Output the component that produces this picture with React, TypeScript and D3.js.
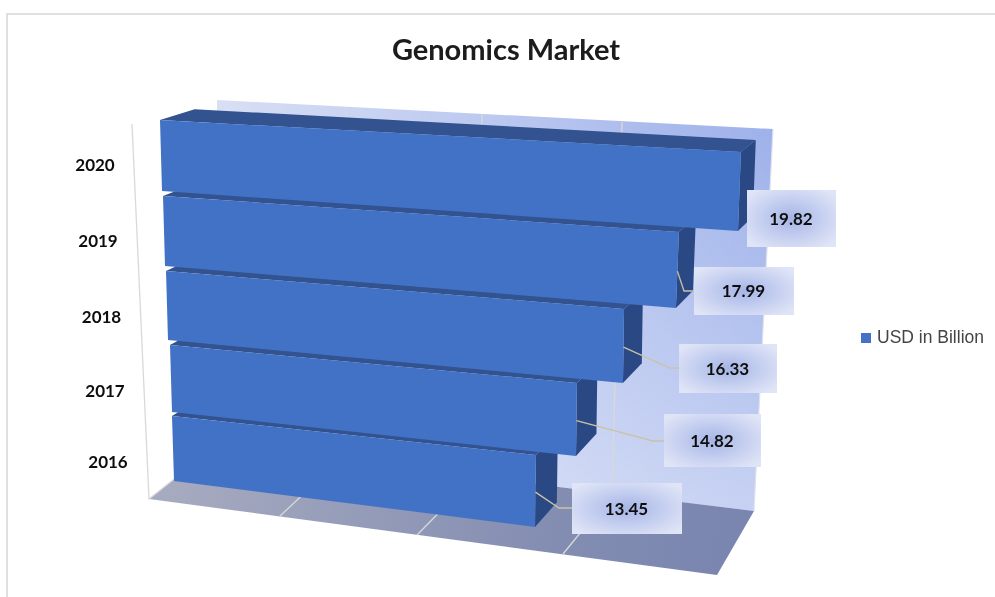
import React from "react";
import * as d3 from "d3";

const years = ["2016", "2017", "2018", "2019", "2020"];
const usdBillion = [13.45, 14.82, 16.33, 17.99, 19.82];
const valueTicks = [0, 5, 10, 15, 20];
const title = "Genomics Market";
const seriesName = "USD in Billion";

// Layout of the fake-3D projection (bar rows run bottom to top)
const rowKnots = [0, 0.95, 1, 1.95, 2, 2.95, 3, 3.95, 4, 4.95];
const leftX = d3.scaleLinear(rowKnots, [174, 172, 172, 170, 168, 166, 165, 163, 162, 160]);
const leftY = d3.scaleLinear(rowKnots, [481, 416, 412, 345, 340, 271, 266, 196, 191, 120]);
const unitX = d3.scaleLinear(rowKnots, [26.84, 27.06, 27.26, 27.46, 27.86, 28.05, 28.4, 28.68, 29.06, 29.31]);
const slope = d3.scaleLinear(rowKnots, [3.42, 2.9, 2.97, 2.56, 2.63, 2.33, 2.33, 2.0, 2.02, 1.61]);
const VP: [number, number] = [1178, -198];
const DEPTH = 0.034;

type P = [number, number];
const front = (v: number, r: number): P => [leftX(r) + unitX(r) * v, leftY(r) + slope(r) * v];
const back = (p: P): P => [p[0] + DEPTH * (VP[0] - p[0]), p[1] + DEPTH * (VP[1] - p[1])];
const poly = (pts: P[]) => (d3.line()(pts) ?? "") + "Z";

// Wall and floor grid positions per value tick
const floorFrontX = d3.scaleLinear(valueTicks, [149, 280, 417, 563, 717]);
const floorFrontY = d3.scaleLinear(valueTicks, [499, 516, 535, 554, 575]);
const floorBackX = d3.scaleLinear(valueTicks, [217, 340, 474, 612, 754]);
const floorBackY = d3.scaleLinear(valueTicks, [445, 460, 477, 494, 511]);
const wallTopX = d3.scaleLinear(valueTicks, [217, 346, 482, 622, 773]);
const wallTopY = d3.scaleLinear(valueTicks, [100, 107, 114, 122, 129]);

// Category label placement by row
const catX = d3.scaleLinear([0, 1, 2, 3, 4], [108, 105, 101.5, 98, 95]);
const catY = d3.scaleLinear([0, 1, 2, 3, 4], [468, 397, 323, 247, 171]);

const boxes = [
  { x: 572, y: 483, w: 110, h: 51, bend: [559, 508] },
  { x: 664, y: 414, w: 97, h: 53, bend: [653, 441] },
  { x: 679, y: 344, w: 98, h: 49, bend: [670, 368] },
  { x: 694, y: 267, w: 100, h: 48, bend: [684, 291] },
  { x: 747, y: 190, w: 89, h: 57, bend: null as number[] | null },
];
const labelFont = "Lato, 'Noto Sans', sans-serif";

export default function App() {
  const floor: P[] = [
    [floorFrontX(0), floorFrontY(0)],
    [floorFrontX(20), floorFrontY(20)],
    [floorBackX(20), floorBackY(20)],
    [floorBackX(0), floorBackY(0)],
  ];
  const wall: P[] = [
    [wallTopX(0), wallTopY(0)],
    [wallTopX(20), wallTopY(20)],
    [floorBackX(20), floorBackY(20)],
    [floorBackX(0), floorBackY(0)],
  ];
  return (
    <svg
      width={995}
      height={597}
      style={{ position: "absolute", left: 0, top: 0, background: "#fff" }}
    >
      <defs>
        <linearGradient id="wallH" gradientUnits="userSpaceOnUse" x1={217} y1={100} x2={773} y2={140}>
          <stop offset="0" stopColor="#d8dff5" />
          <stop offset="1" stopColor="#9eb1ea" />
        </linearGradient>
        <linearGradient id="wallV" gradientUnits="userSpaceOnUse" x1={0} y1={130} x2={0} y2={510}>
          <stop offset="0" stopColor="#fff" stopOpacity={0} />
          <stop offset="1" stopColor="#fff" stopOpacity={0.42} />
        </linearGradient>
        <linearGradient id="floorG" gradientUnits="userSpaceOnUse" x1={149} y1={480} x2={717} y2={540}>
          <stop offset="0" stopColor="#a8acc0" />
          <stop offset="0.7" stopColor="#848eb2" />
          <stop offset="1" stopColor="#7a86b0" />
        </linearGradient>
        <radialGradient id="labelG" cx="0.5" cy="0.5" r="0.62">
          <stop offset="0" stopColor="#a6b5e6" />
          <stop offset="0.55" stopColor="#c5cff0" />
          <stop offset="1" stopColor="#dfe4f6" />
        </radialGradient>
        <filter id="soft" x="0" y="0" width="100%" height="100%" filterUnits="userSpaceOnUse">
          <feGaussianBlur stdDeviation={0.45} />
        </filter>
      </defs>

      <g filter="url(#soft)">
        <path d="M7,597 L7,14 L995,14" fill="none" stroke="#d6d6d6" strokeWidth={1.5} />

        <text x={506} y={60} textAnchor="middle" fontFamily={labelFont} fontWeight={700} fontSize={29} fill="#1a1a1a">
          {title}
        </text>

        <path d={poly(wall)} fill="url(#wallH)" />
        <path d={poly(wall)} fill="url(#wallV)" />
        <path d={poly(floor)} fill="url(#floorG)" />
        <path d="M773,129 L754,511" stroke="#dfe3ee" strokeWidth={1.2} fill="none" />
        <path d="M132,124 L149,499 L217,445" stroke="#d9d9d9" strokeWidth={1.3} fill="none" />

        {valueTicks.slice(1, 4).map((t) => (
          <g key={t} stroke="#d9d9d9" strokeWidth={1.3} fill="none">
            <line x1={floorFrontX(t)} y1={floorFrontY(t)} x2={floorBackX(t)} y2={floorBackY(t)} />
            <line x1={floorBackX(t)} y1={floorBackY(t)} x2={wallTopX(t)} y2={wallTopY(t)} />
          </g>
        ))}

        {usdBillion.map((v, i) => {
          const tl = front(0, i + 0.95);
          const bl = front(0, i);
          const tr = front(v, i + 0.95);
          const br = front(v, i);
          return (
            <g key={years[i]}>
              <path d={poly([tl, tr, back(tr), back(tl)])} fill="#31528f" />
              <path d={poly([tr, br, back(br), back(tr)])} fill="#2b4a84" />
              <path d={poly([tl, tr, br, bl])} fill="#4372c5" />
            </g>
          );
        })}

        {usdBillion.map((v, i) => {
          const b = boxes[i];
          if (!b.bend) return null;
          const start = front(v, i + 0.46);
          const pts: P[] = [start, [b.bend[0], b.bend[1]], [b.x, b.bend[1]]];
          return <path key={years[i]} d={d3.line()(pts) ?? ""} fill="none" stroke="#c9c2aa" strokeWidth={1.3} />;
        })}

        {usdBillion.map((v, i) => {
          const b = boxes[i];
          return (
            <g key={years[i]}>
              <rect x={b.x} y={b.y} width={b.w} height={b.h} fill="url(#labelG)" />
              <text
                x={b.x + b.w / 2 - 0.5}
                y={b.y + b.h / 2 + 6}
                textAnchor="middle"
                fontFamily={labelFont}
                fontWeight={700}
                fontSize={17}
                fill="#111"
              >
                {d3.format(".2f")(v)}
              </text>
            </g>
          );
        })}

        {years.map((y, i) => (
          <text
            key={y}
            x={catX(i)}
            y={catY(i)}
            textAnchor="middle"
            fontFamily={labelFont}
            fontWeight={700}
            fontSize={17}
            fill="#111"
          >
            {y}
          </text>
        ))}

        <rect x={861} y={333} width={10} height={10} fill="#4472c4" />
        <text x={877} y={343} fontFamily="'Liberation Sans', Arial, sans-serif" fontSize={17.5} fill="#444">
          {seriesName}
        </text>
      </g>
    </svg>
  );
}
